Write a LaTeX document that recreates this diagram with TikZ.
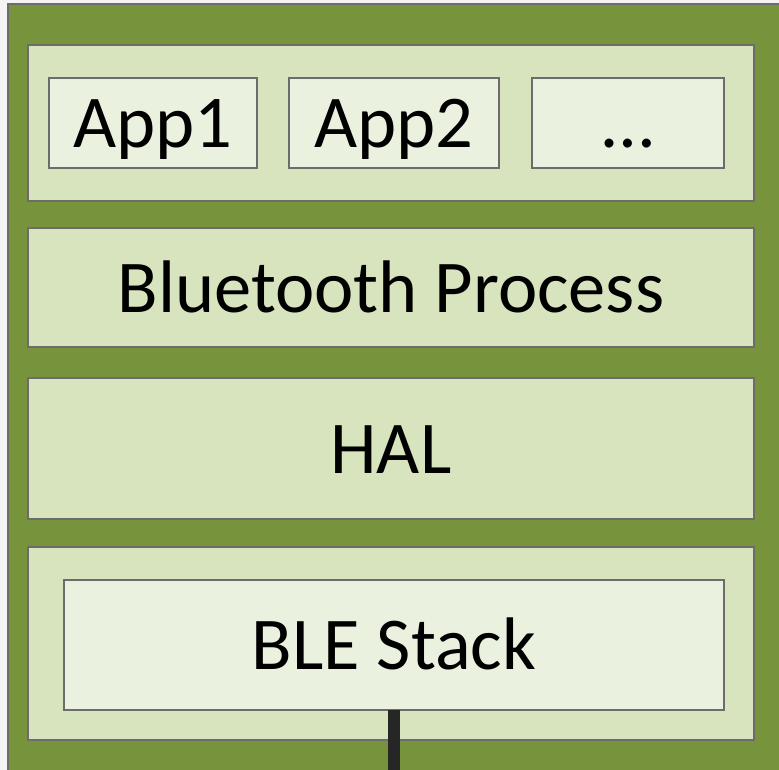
\documentclass[tikz,border=0pt]{standalone}
\usepackage{fontspec}
\setmainfont{Carlito}
\definecolor{pagebg}{RGB}{244,244,244}
\definecolor{boardgreen}{RGB}{119,147,60}
\definecolor{layerfill}{RGB}{216,228,189}
\definecolor{modfill}{RGB}{235,241,223}
\definecolor{edgegray}{RGB}{108,108,108}
\definecolor{busblack}{RGB}{38,38,38}
\tikzset{
  layer/.style={draw=edgegray, line width=1.3pt, fill=layerfill, inner sep=0pt, outer sep=0pt},
  module/.style={draw=edgegray, line width=1.3pt, fill=modfill, inner sep=0pt, outer sep=0pt},
  label text/.style={font=\fontsize{74.5}{80}\selectfont, text height=49pt, text depth=0pt},
}
\begin{document}
\begin{tikzpicture}[x=1pt, y=-1pt]
  \path[use as bounding box, fill=pagebg] (0,0) rectangle (779,770);
  \clip (0,0) rectangle (779,770);

  % outer board
  \draw[draw=edgegray, line width=1.3pt, fill=boardgreen] (8,4) rectangle (800,800);

  % application layer
  \node[layer, minimum width=726pt, minimum height=156pt] (apps) at (391,123) {};
  \node[module, label text, minimum width=208pt, minimum height=90pt] (app1) at (153,123) {App1};
  \node[module, label text, minimum width=210pt, minimum height=90pt] (app2) at (394,123) {App2};
  \node[module, label text, minimum width=192pt, minimum height=90pt] (more) at (628,123) {\char"2026};

  % middle layers
  \node[layer, label text, minimum width=726pt, minimum height=119pt] (btproc) at (391,287.5) {Bluetooth Process};
  \node[layer, label text, minimum width=726pt, minimum height=141pt] (hal) at (391,448.5) {HAL};

  % controller layer
  \node[layer, minimum width=726pt, minimum height=193pt] (ctrl) at (391,643.5) {};
  \node[module, label text, minimum width=660pt, minimum height=130pt] (ble) at (394,645) {BLE Stack};

  % bus leaving the stack
  \coordinate (busend) at (394,780);
  \draw[busblack, line width=12pt] (ble.south) -- (busend);
\end{tikzpicture}
\end{document}
